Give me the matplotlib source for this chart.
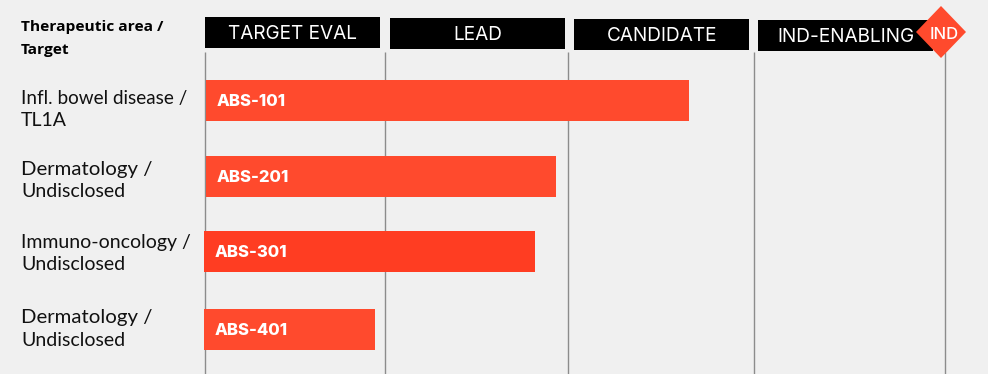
import matplotlib
matplotlib.use('Agg')
import matplotlib.pyplot as plt
from matplotlib.patches import Polygon

# values, x axis is in pixels of the slide
area_lines = [('Infl. bowel disease /', 'TL1A'), ('Dermatology /', 'Undisclosed'),
              ('Immuno-oncology /', 'Undisclosed'), ('Dermatology /', 'Undisclosed')]
label_ys = [98, 169, 242, 318]
programs = ['ABS-101', 'ABS-201', 'ABS-301', 'ABS-401']
bar_starts = [205.5, 205.5, 204, 204]
bar_ends = [689, 556, 535, 375]
bar_tops = [80, 156, 231, 309]
bar_colors = ['#FF4A2D', '#FF4A2D', '#FF3D22', '#FF4A2D']
stages = ['TARGET EVAL', 'LEAD', 'CANDIDATE', 'IND-ENABLING']
stage_lefts = [205, 390, 574, 758]
stage_tops = [17, 18, 19, 20]
stage_text_x = [292.5, 478, 662, 846]
grid_x = [205.2, 385.2, 568.2, 754.2, 945.2]

# the original font has uneven spacing, small size changes keep the line widths close
first_sizes = [13.6, 14.7, 14, 14.7]
second_sizes = [14, 14, 14, 14]

fig = plt.figure(figsize=(9.88, 3.74), dpi=100, facecolor='#F0F0F0')
ax = fig.add_axes([0, 0, 1, 1])
ax.set_xlim(0, 988)
ax.set_ylim(374, 0)
ax.axis('off')

# grid lines
ax.vlines(grid_x, 52, 374, color='#8C8C8C', lw=1, zorder=1)

# stage headers
for name, left, top, tx in zip(stages, stage_lefts, stage_tops, stage_text_x):
    ax.barh(top + 15.5, 175, height=31, left=left, color='black', zorder=2)
    ax.text(tx, top + 14.5, name, color='white', fontsize=13.7, family='Inter',
            ha='center', va='center_baseline', zorder=3)

# IND diamond
ax.add_patch(Polygon([(916, 32), (941, 6), (966, 32), (941, 58)], closed=True,
                     facecolor='#FF4A2D', edgecolor='none', zorder=4))
ax.text(944, 33, 'IND', color='white', fontsize=12, family='Inter', weight='medium',
        ha='center', va='center_baseline', zorder=5)

# header of the label column
ax.text(21, 27, 'Therapeutic area /', fontsize=11.15, family='Open Sans', weight='bold',
        va='center', color='black')
ax.text(21, 49.5, 'Target', fontsize=11.15, family='Open Sans', weight='bold',
        va='center', color='black')

# bars and labels
for i, prog in enumerate(programs):
    start = bar_starts[i]
    top = bar_tops[i]
    ax.barh(top + 20.5, bar_ends[i] - start, height=41, left=start, color=bar_colors[i], zorder=3)
    ax.text(start + 11, top + 20, prog, color='white', fontsize=12, family='Inter',
            weight='heavy', va='center_baseline', zorder=4)
    ax.text(21, label_ys[i], area_lines[i][0], fontsize=first_sizes[i], family='Lato',
            va='center', color='#111111')
    ax.text(21, label_ys[i] + 22, area_lines[i][1], fontsize=second_sizes[i], family='Lato',
            va='center', color='#111111')

fig.savefig('out.png', dpi=100, facecolor=fig.get_facecolor())
